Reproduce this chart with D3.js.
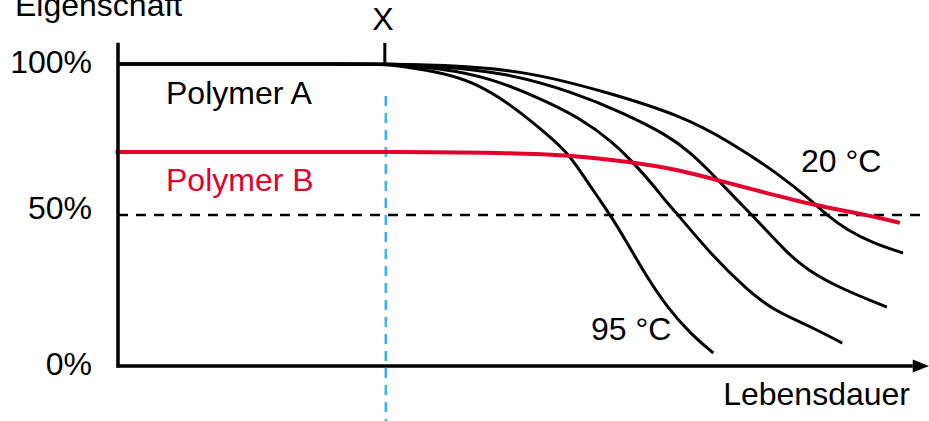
<!DOCTYPE html>
<html>
<head>
<meta charset="utf-8">
<script src="https://cdn.jsdelivr.net/npm/d3@7"></script>
<style>
  html, body { margin: 0; padding: 0; background: #fff; }
  svg { display: block; }
  text { font-family: "Liberation Sans", Arial, sans-serif; font-size: 32px; fill: #000; }
</style>
</head>
<body>
<svg id="chart" width="929" height="421"></svg>
<script>
// ---- Data (x = Lebensdauer, arbitrary units 0..100; y = Eigenschaft in %) ----
const yTickValues = [0, 50, 100];
const yTickLabels = ["0%", "50%", "100%"];
const markerX = 32.9;            // "X" marker on time axis
const thresholdY = 50;           // dashed 50% line

const curve95x = [0, 31.5, 32.9, 39.7, 43.8, 48.0, 52.0, 55.4, 57.3, 59.4, 60.7, 62.8, 65.2, 67.7, 70.5, 73.4];
const curve95y = [100, 100, 100, 97.4, 94.0, 87.4, 78.8, 70.9, 63.3, 55.0, 50.0, 40.7, 29.5, 19.5, 10.9, 4.3];

const curve2x = [0, 31.5, 32.9, 39.7, 45.9, 52.0, 57.0, 61.0, 63.5, 66.0, 67.7, 69.3, 73.4, 77.6, 80.8, 85.0, 89.3];
const curve2y = [100, 100, 100, 98.7, 95.4, 88.7, 82.1, 74.2, 67.5, 59.9, 54.0, 49.3, 36.1, 25.2, 18.5, 13.6, 7.6];

const curve3x = [0, 31.5, 32.9, 39.7, 48.0, 56.1, 62.3, 67.7, 70.5, 73.4, 76.3, 78.8, 82.5, 85.0, 89.0, 94.8];
const curve3y = [100, 100, 100, 99.3, 97.0, 90.7, 83.8, 76.5, 70.9, 63.3, 55.0, 48.3, 37.4, 31.8, 25.8, 19.5];

const curve20x = [0, 31.5, 32.9, 39.7, 49.9, 60.3, 69.3, 75.5, 81.6, 85.7, 87.4, 89.9, 93.1, 96.8];
const curve20y = [100, 100, 100, 99.7, 98.0, 90.7, 83.1, 74.2, 63.3, 54.3, 50.0, 45.0, 40.7, 37.4];

const polymerBx = [-0.3, 39.7, 48.0, 55.4, 63.5, 69.3, 74.2, 79.5, 85.7, 92.4, 96.4];
const polymerBy = [70.9, 70.9, 70.5, 69.9, 67.5, 64.9, 61.3, 57.6, 53.3, 50.0, 47.4];

const polymerAcurves = [[curve95x, curve95y], [curve2x, curve2y], [curve3x, curve3y], [curve20x, curve20y]];

// ---- Layout ----
const svg = d3.select("#chart");
const x = d3.scaleLinear().domain([0, 100]).range([118, 929]);
const y = d3.scaleLinear().domain([0, 100]).range([366, 64]);
const black = "#000";
const red = "#e2002d";
const blue = "#3bb5ef";
const tickLabelDy = v => (v === 50 ? 4 : 8.5);

const line = d3.line().x(d => x(d[0])).y(d => y(d[1])).curve(d3.curveBasis);
const zipPts = (xs, ys) => xs.map((v, i) => [v, ys[i]]);

// Blue dashed vertical line at X
svg.append("line")
  .attr("x1", x(markerX) + 1).attr("x2", x(markerX) + 1)
  .attr("y1", y(89.4)).attr("y2", 421)
  .attr("stroke", blue).attr("stroke-width", 2.6)
  .attr("stroke-dasharray", "10,7");

// Dashed 50% line
svg.append("line")
  .attr("x1", x(0)).attr("x2", x(98.9))
  .attr("y1", y(thresholdY)).attr("y2", y(thresholdY))
  .attr("stroke", black).attr("stroke-width", 2.6)
  .attr("stroke-dasharray", "10,8");

// Polymer A curves
svg.append("g").selectAll("path")
  .data(polymerAcurves)
  .join("path")
  .attr("d", c => line(zipPts(c[0], c[1])))
  .attr("fill", "none").attr("stroke", black).attr("stroke-width", 3);

// Polymer B curve
svg.append("path")
  .attr("d", line(zipPts(polymerBx, polymerBy)))
  .attr("fill", "none").attr("stroke", red).attr("stroke-width", 4);

// Axes
svg.append("line")
  .attr("x1", x(0)).attr("x2", x(0))
  .attr("y1", y(107)).attr("y2", y(0) + 1.5)
  .attr("stroke", black).attr("stroke-width", 3.5);
svg.append("line")
  .attr("x1", x(0) - 1.5).attr("x2", x(98))
  .attr("y1", y(0)).attr("y2", y(0))
  .attr("stroke", black).attr("stroke-width", 3.5);
svg.append("path")
  .attr("d", `M${x(100)},${y(0)} L${x(98)},${y(0) - 6.5} L${x(98)},${y(0) + 6.5} Z`)
  .attr("fill", black);

// X marker tick
svg.append("line")
  .attr("x1", x(markerX)).attr("x2", x(markerX))
  .attr("y1", y(107)).attr("y2", y(100))
  .attr("stroke", black).attr("stroke-width", 3);

// Y tick labels
svg.append("g").selectAll("text")
  .data(yTickValues)
  .join("text")
  .attr("x", 92).attr("y", d => y(d) + tickLabelDy(d))
  .attr("text-anchor", "end")
  .text((d, i) => yTickLabels[i]);

// Titles & labels
svg.append("text").attr("x", 15).attr("y", 16).text("Eigenschaft");
svg.append("text").attr("x", x(markerX) - 2).attr("y", 30).attr("text-anchor", "middle").text("X");
svg.append("text").attr("x", 910).attr("y", 405).attr("text-anchor", "end").text("Lebensdauer");
svg.append("text").attr("x", 166).attr("y", 104).text("Polymer A");
svg.append("text").attr("x", 166).attr("y", 191).style("fill", red).text("Polymer B");
svg.append("text").attr("x", 801).attr("y", 172).text("20 °C");
svg.append("text").attr("x", 591).attr("y", 340).text("95 °C");
</script>
</body>
</html>
